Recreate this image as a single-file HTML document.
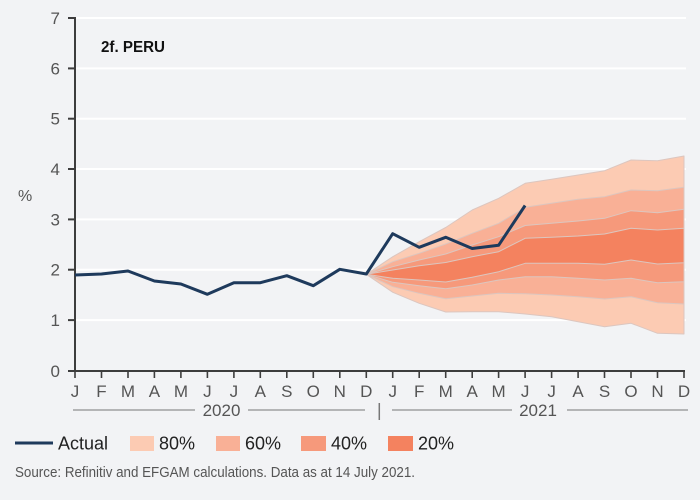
<!DOCTYPE html>
<html><head><meta charset="utf-8"><style>
html,body{margin:0;padding:0;background:#f2f3f5;}
svg{display:block;}
text{font-family:"Liberation Sans Narrow","Liberation Sans",sans-serif;}
</style></head><body>
<svg width="700" height="500" viewBox="0 0 700 500" xmlns="http://www.w3.org/2000/svg">
<rect width="700" height="500" fill="#f2f3f5"/>
<g stroke="#ffffff" stroke-width="2">
<line x1="76" y1="18" x2="686" y2="18"/>
<line x1="76" y1="68.4" x2="686" y2="68.4"/>
<line x1="76" y1="118.7" x2="686" y2="118.7"/>
<line x1="76" y1="169" x2="686" y2="169"/>
<line x1="76" y1="219.4" x2="686" y2="219.4"/>
<line x1="76" y1="269.7" x2="686" y2="269.7"/>
<line x1="76" y1="320.1" x2="686" y2="320.1"/>
</g>
<g stroke="#dcc6bf" stroke-width="1" stroke-linejoin="round">
<polygon fill="#fccbb3" points="366.3,274.3 392.8,256.7 419.2,241.7 445.7,227.5 472.2,210 498.7,198.3 525.2,183.3 551.6,179.3 578.1,175 604.6,170.7 631.1,160 657.5,160.7 684,156 684,334 657.5,333.3 631.1,323.3 604.6,326.7 578.1,321.7 551.6,316.7 525.2,314 498.7,311.7 472.2,311.7 445.7,312 419.2,303.3 392.8,292.3"/>
<polygon fill="#f9b096" points="366.3,274.3 392.8,261.7 419.2,253.3 445.7,244 472.2,233.3 498.7,223.3 525.2,207.3 551.6,203.3 578.1,199.3 604.6,196.7 631.1,190 657.5,190.7 684,187.3 684,304 657.5,302.7 631.1,296.7 604.6,299 578.1,296.7 551.6,295 525.2,293.7 498.7,293.3 472.2,296 445.7,298.7 419.2,293.3 392.8,286.7"/>
<polygon fill="#f6997b" points="366.3,274.3 392.8,266.7 419.2,260 445.7,254 472.2,245 498.7,236.7 525.2,225.5 551.6,223.3 578.1,221 604.6,218.3 631.1,210.7 657.5,212.7 684,209.3 684,281.7 657.5,282.7 631.1,278.3 604.6,280 578.1,278.3 551.6,276.7 525.2,276.7 498.7,280 472.2,285 445.7,288.7 419.2,285.7 392.8,282.3"/>
<polygon fill="#f4825f" points="366.3,274.3 392.8,270 419.2,265.7 445.7,262.5 472.2,256.7 498.7,251.7 525.2,238.3 551.6,237.3 578.1,236 604.6,234 631.1,228.3 657.5,230 684,228.3 684,262.7 657.5,264 631.1,260 604.6,264.3 578.1,263.3 551.6,263.3 525.2,263.3 498.7,271.7 472.2,277.3 445.7,282 419.2,280 392.8,278.3"/>
</g>
<g stroke="#3d3d3d" stroke-width="2" fill="none">
<line x1="75" y1="17" x2="75" y2="372"/>
<line x1="74" y1="371" x2="685" y2="371"/>
<line x1="68" y1="18" x2="75" y2="18"/>
<line x1="68" y1="68.4" x2="75" y2="68.4"/>
<line x1="68" y1="118.7" x2="75" y2="118.7"/>
<line x1="68" y1="169" x2="75" y2="169"/>
<line x1="68" y1="219.4" x2="75" y2="219.4"/>
<line x1="68" y1="269.7" x2="75" y2="269.7"/>
<line x1="68" y1="320.1" x2="75" y2="320.1"/>
<line x1="68" y1="371" x2="75" y2="371"/>
</g>
<g stroke="#3d3d3d" stroke-width="1.6">
<line x1="75" y1="371" x2="75" y2="378"/><line x1="101.5" y1="371" x2="101.5" y2="378"/><line x1="128" y1="371" x2="128" y2="378"/><line x1="154.4" y1="371" x2="154.4" y2="378"/><line x1="180.9" y1="371" x2="180.9" y2="378"/><line x1="207.4" y1="371" x2="207.4" y2="378"/><line x1="233.9" y1="371" x2="233.9" y2="378"/><line x1="260.3" y1="371" x2="260.3" y2="378"/><line x1="286.8" y1="371" x2="286.8" y2="378"/><line x1="313.3" y1="371" x2="313.3" y2="378"/><line x1="339.8" y1="371" x2="339.8" y2="378"/><line x1="366.3" y1="371" x2="366.3" y2="378"/><line x1="392.7" y1="371" x2="392.7" y2="378"/><line x1="419.2" y1="371" x2="419.2" y2="378"/><line x1="445.7" y1="371" x2="445.7" y2="378"/><line x1="472.2" y1="371" x2="472.2" y2="378"/><line x1="498.6" y1="371" x2="498.6" y2="378"/><line x1="525.1" y1="371" x2="525.1" y2="378"/><line x1="551.6" y1="371" x2="551.6" y2="378"/><line x1="578.1" y1="371" x2="578.1" y2="378"/><line x1="604.5" y1="371" x2="604.5" y2="378"/><line x1="631" y1="371" x2="631" y2="378"/><line x1="657.5" y1="371" x2="657.5" y2="378"/><line x1="684" y1="371" x2="684" y2="378"/>
</g>
<polyline fill="none" stroke="#1e3a5c" stroke-width="3" stroke-linejoin="round" points="75,275 101.5,274 128,271 154.4,281 180.9,284 207.4,294.3 233.9,282.7 260.3,282.7 286.8,275.7 313.3,285.7 339.8,269.3 366.3,274 392.7,233.7 419.2,247.3 445.7,237.3 472.2,248.5 498.6,245.3 525.1,205.5"/>
<g fill="#555" font-size="17" text-anchor="end">
<text x="60" y="24">7</text>
<text x="60" y="74.4">6</text>
<text x="60" y="124.7">5</text>
<text x="60" y="175">4</text>
<text x="60" y="225.4">3</text>
<text x="60" y="275.7">2</text>
<text x="60" y="326.1">1</text>
<text x="60" y="377">0</text>
</g>
<text x="18" y="201" fill="#555" font-size="16">%</text>
<text x="101" y="52" fill="#111" font-size="16" font-weight="bold" font-family="Liberation Sans, sans-serif" textLength="64" lengthAdjust="spacingAndGlyphs">2f. PERU</text>
<g fill="#555" font-size="17" text-anchor="middle">
<text x="75" y="397">J</text><text x="101.5" y="397">F</text><text x="128" y="397">M</text><text x="154.4" y="397">A</text><text x="180.9" y="397">M</text><text x="207.4" y="397">J</text><text x="233.9" y="397">J</text><text x="260.3" y="397">A</text><text x="286.8" y="397">S</text><text x="313.3" y="397">O</text><text x="339.8" y="397">N</text><text x="366.3" y="397">D</text><text x="392.7" y="397">J</text><text x="419.2" y="397">F</text><text x="445.7" y="397">M</text><text x="472.2" y="397">A</text><text x="498.6" y="397">M</text><text x="525.1" y="397">J</text><text x="551.6" y="397">J</text><text x="578.1" y="397">A</text><text x="604.5" y="397">S</text><text x="631" y="397">O</text><text x="657.5" y="397">N</text><text x="684" y="397">D</text>
<text x="221.5" y="416">2020</text>
<text x="538" y="416">2021</text>
</g>
<g stroke="#777" stroke-width="1">
<line x1="73" y1="410" x2="195" y2="410"/>
<line x1="248" y1="410" x2="365" y2="410"/>
<line x1="392" y1="410" x2="512" y2="410"/>
<line x1="567" y1="410" x2="688" y2="410"/>
<line x1="379.3" y1="403" x2="379.3" y2="420" stroke-width="1.5"/>
</g>
<line x1="15" y1="443" x2="53" y2="443" stroke="#1e3a5c" stroke-width="3"/>
<text x="58" y="449.5" fill="#222" font-size="18">Actual</text>
<rect x="130" y="436" width="24" height="15" fill="#fccbb3"/>
<text x="159" y="449.5" fill="#222" font-size="18">80%</text>
<rect x="216" y="436" width="24" height="15" fill="#f9b096"/>
<text x="245" y="449.5" fill="#222" font-size="18">60%</text>
<rect x="301" y="436" width="25" height="15" fill="#f6997b"/>
<text x="331" y="449.5" fill="#222" font-size="18">40%</text>
<rect x="388" y="436" width="25" height="15" fill="#f4825f"/>
<text x="418" y="449.5" fill="#222" font-size="18">20%</text>
<text x="15" y="477" fill="#555" font-size="15" textLength="400" lengthAdjust="spacingAndGlyphs">Source: Refinitiv and EFGAM calculations. Data as at 14 July 2021.</text>
</svg>
</body></html>
